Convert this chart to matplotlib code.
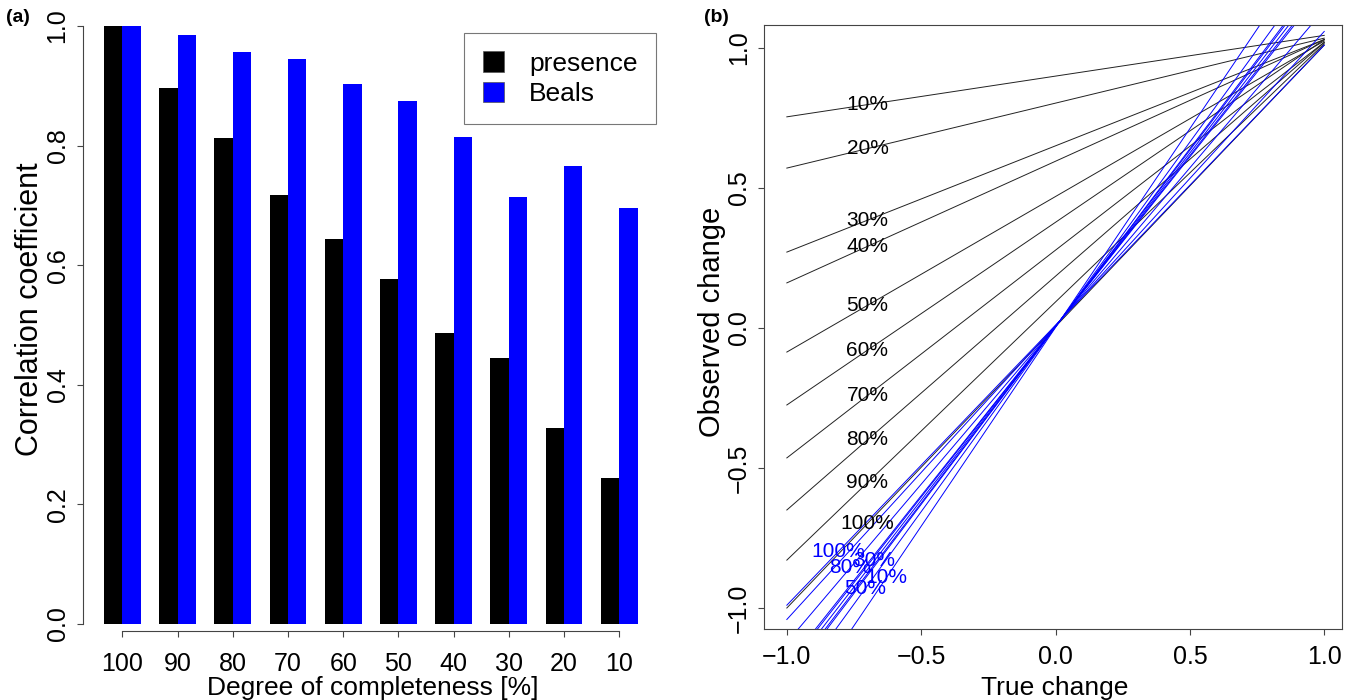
import matplotlib.pyplot as plt
import numpy as np
from matplotlib.patches import Patch

plt.rcParams["font.family"] = ["Liberation Sans", "DejaVu Sans"]

# (a) correlation with the full data set, by degree of completeness
completeness = [100, 90, 80, 70, 60, 50, 40, 30, 20, 10]
presence = [1.0, 0.896, 0.813, 0.717, 0.644, 0.577, 0.487, 0.445, 0.328, 0.244]
beals = [1.0, 0.985, 0.957, 0.945, 0.903, 0.875, 0.814, 0.714, 0.766, 0.696]

# (b) fitted observed change at true change = -1 and +1
levels = ["10%", "20%", "30%", "40%", "50%", "60%", "70%", "80%", "90%", "100%"]
pres_lo = [0.754, 0.571, 0.271, 0.161, -0.086, -0.275, -0.464, -0.650, -0.829, -1.0]
pres_hi = [1.045, 1.035, 1.03, 1.03, 1.025, 1.03, 1.02, 1.02, 1.015, 1.01]
beals_lo = [-1.418, -1.265, -1.235, -1.255, -1.316, -1.214, -1.204, -1.123, -1.041, -0.990]
beals_hi = [1.422, 1.275, 1.245, 1.265, 1.324, 1.226, 1.216, 1.137, 1.059, 1.010]

# where along the lines the percentage labels sit (true change)
pres_lab_x = -0.70
beals_lab_x = {"100%": -0.81, "80%": -0.763, "30%": -0.673, "10%": -0.63, "50%": -0.707}

W, H = 1353, 700
fig = plt.figure(figsize=(W / 100, H / 100), dpi=100)

grey = "#444444"
tick_fs = 18
line_fs = 15

# ---- panel (a) ----
ax1 = fig.add_axes([82.7 / W, 76 / H, (659 - 82.7) / W, 598 / H])
grp = np.arange(len(completeness)) * 3
ax1.bar(grp + 1.5, presence, width=1, color="black", linewidth=0)
ax1.bar(grp + 2.5, beals, width=1, color="#0000ff", linewidth=0)
ax1.set_xlim(-0.16, 31.16)
ax1.set_ylim(0, 1)
for s in ["top", "right"]:
    ax1.spines[s].set_visible(False)
ax1.spines["left"].set_bounds(0, 1)
ax1.spines["bottom"].set_bounds(grp[0] + 2, grp[-1] + 2)
ax1.spines["bottom"].set_position(("outward", 5))
for s in ["left", "bottom"]:
    ax1.spines[s].set_color(grey)
    ax1.spines[s].set_linewidth(0.8)
ax1.set_xticks(grp + 2)
ax1.set_xticklabels([str(c) for c in completeness])
yt = [0, 0.2, 0.4, 0.6, 0.8, 1.0]
ax1.set_yticks(yt)
ax1.set_yticklabels([f"{v:.1f}" for v in yt], rotation=90, va="center")
ax1.tick_params(axis="both", length=4.5, width=0.8, color=grey, labelsize=tick_fs)
ax1.tick_params(axis="x", pad=10.5)
ax1.tick_params(axis="y", pad=5)

ax1.legend(handles=[Patch(facecolor="black", edgecolor="#555555", lw=0.5),
                    Patch(facecolor="#0000ff", edgecolor="#555555", lw=0.5)],
           labels=["presence", "Beals"], loc="upper right",
           bbox_to_anchor=(656 / W, 1 - 33 / H), bbox_transform=fig.transFigure,
           borderaxespad=0, fontsize=19, fancybox=False, framealpha=1,
           edgecolor="#777777", borderpad=0.7, labelspacing=0.22,
           handlelength=0.8, handleheight=0.8, handletextpad=0.96)
ax1.get_legend().get_frame().set_linewidth(0.8)

fig.text(30 / W, 1 - 309 / H, "Correlation coefficient", rotation=90,
         ha="center", va="center", fontsize=22)
fig.text(373 / W, 1 - 688 / H, "Degree of completeness [%]",
         ha="center", va="center", fontsize=19)
fig.text(18 / W, 1 - 18 / H, "(a)", ha="center", va="center",
         fontsize=14, fontweight="bold")

# ---- panel (b) ----
ax2 = fig.add_axes([764 / W, 71 / H, 577.7 / W, 604 / H])
ax2.set_xlim(-1.085, 1.065)
ax2.set_ylim(-1.075, 1.082)
for lo, hi in zip(pres_lo, pres_hi):
    ax2.plot([-1, 1], [lo, hi], color="#222222", lw=0.7)
for lo, hi in zip(beals_lo, beals_hi):
    ax2.plot([-1, 1], [lo, hi], color="#0000ff", lw=0.7)

for lab, lo, hi in zip(levels, pres_lo, pres_hi):
    y = lo + (pres_lab_x + 1) / 2 * (hi - lo)
    ax2.text(pres_lab_x, y, lab, ha="center", va="center", fontsize=line_fs)
for lab, lo, hi in zip(levels, beals_lo, beals_hi):
    if lab in beals_lab_x:
        x = beals_lab_x[lab]
        y = lo + (x + 1) / 2 * (hi - lo)
        ax2.text(x, y, lab, ha="center", va="center", fontsize=line_fs,
                 color="#0000ff")

for s in ax2.spines.values():
    s.set_color(grey)
    s.set_linewidth(0.8)
xt = [-1.0, -0.5, 0.0, 0.5, 1.0]
ax2.set_xticks(xt)
ax2.set_xticklabels([f"{v:.1f}".replace("-", "\u2212") for v in xt])
ax2.set_yticks(xt)
ax2.set_yticklabels([f"{v:.1f}".replace("-", "\u2212") for v in xt],
                    rotation=90, va="center")
ax2.tick_params(axis="both", length=4.5, width=0.8, color=grey, labelsize=tick_fs)
ax2.tick_params(axis="x", pad=7)
ax2.tick_params(axis="y", pad=5)

fig.text(712 / W, 1 - 322 / H, "Observed change", rotation=90,
         ha="center", va="center", fontsize=21)
fig.text(1055 / W, 1 - 688 / H, "True change", ha="center", va="center",
         fontsize=19)
fig.text(716 / W, 1 - 18 / H, "(b)", ha="center", va="center",
         fontsize=14, fontweight="bold")

fig.savefig("out.png", dpi=100)
